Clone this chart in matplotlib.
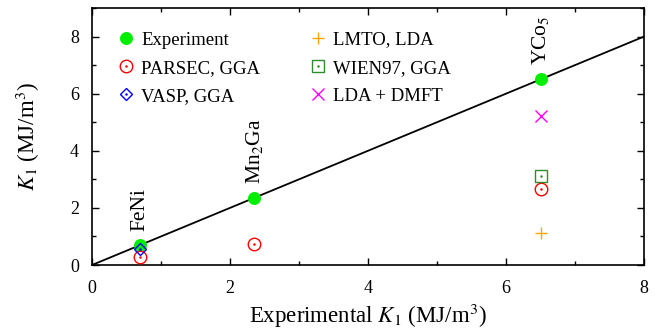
import numpy as np
import matplotlib
matplotlib.use('Agg')
import matplotlib.pyplot as plt
from matplotlib.legend_handler import HandlerTuple
from matplotlib.ticker import MultipleLocator

plt.rcParams['font.family'] = ['Liberation Serif', 'DejaVu Serif']
plt.rcParams['mathtext.fontset'] = 'stix'

# compounds and experimental anisotropy constants
compounds = ['FeNi', 'Mn$_2$Ga', 'YCo$_5$']
k_exp = [0.70, 2.35, 6.50]

# calculated values (x = experimental value)
parsec_x = [0.70, 2.35, 6.50]
parsec_y = [0.27, 0.74, 2.66]
vasp_x = [0.70]
vasp_y = [0.56]
lmto_x = [6.50]
lmto_y = [1.13]
wien_x = [6.50]
wien_y = [3.13]
dmft_x = [6.50]
dmft_y = [5.22]

fig = plt.figure(figsize=(6.68, 3.35), dpi=100)
ax = fig.add_axes([92/668, 70/335, 552/668, 257/335])

# y = x reference line
ax.plot([0, 8], [0, 8], color='black', lw=1.3, zorder=1)

h_exp, = ax.plot(k_exp, k_exp, 'o', color='#00ee00', ms=8.3, zorder=3)

def open_marker(x, y, marker, color, size):
    a, = ax.plot(x, y, marker, mfc='none', mec=color, ms=size, mew=1.0, zorder=4)
    b, = ax.plot(x, y, '.', color=color, ms=1.6, zorder=4)
    return (a, b)

h_parsec = open_marker(parsec_x, parsec_y, 'o', 'red', 9)
h_vasp = open_marker(vasp_x, vasp_y, 'D', 'blue', 6.5)
h_wien = open_marker(wien_x, wien_y, 's', '#2e8b2e', 8.5)
h_lmto, = ax.plot(lmto_x, lmto_y, '+', color='orange', ms=9, mew=1.0, zorder=4)
h_dmft, = ax.plot(dmft_x, dmft_y, 'x', color='magenta', ms=9, mew=1.0, zorder=4)

# compound labels above the experimental points
for name, xv in zip(compounds, k_exp):
    ax.text(xv, xv + 0.5, name, rotation=90, ha='center', va='bottom', fontsize=15.5)

handles = [h_exp, h_parsec, h_vasp, h_lmto, h_wien, h_dmft]
labels = ['Experiment', 'PARSEC, GGA', 'VASP, GGA',
          'LMTO, LDA', 'WIEN97, GGA', 'LDA + DMFT']
ax.legend(handles, labels, ncol=2, frameon=False, fontsize=13.5,
          loc='upper left', bbox_to_anchor=(0.048, 0.909),
          handler_map={tuple: HandlerTuple(ndivide=1, pad=0)},
          handlelength=0.8, handletextpad=0.4, columnspacing=2.7,
          labelspacing=0.59, borderaxespad=0, borderpad=0)

ax.set_xlim(0, 8)
ax.set_ylim(0, 9)
ax.xaxis.set_major_locator(MultipleLocator(2))
ax.xaxis.set_minor_locator(MultipleLocator(1))
ax.yaxis.set_major_locator(MultipleLocator(2))
ax.yaxis.set_minor_locator(MultipleLocator(1))
ax.tick_params(which='both', direction='in', top=True, right=True,
               labelsize=13, width=1.0, pad=9.5)
ax.tick_params(axis='x', pad=11)
ax.tick_params(which='major', length=5)
ax.tick_params(which='minor', length=3)
for s in ax.spines.values():
    s.set_linewidth(1.2)

ax.set_xlabel('Experimental $K_1$ (MJ/m$^3$)', fontsize=16.5)
ax.set_ylabel('$K_1$ (MJ/m$^3$)', fontsize=16.5)
ax.xaxis.set_label_coords(0.5, -0.145)
ax.yaxis.set_label_coords(-0.09, 0.5)

fig.savefig('out.png', dpi=100)
